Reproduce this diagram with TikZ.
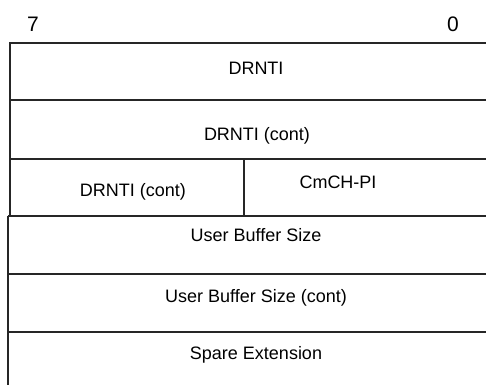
\documentclass[tikz,border=0pt]{standalone}
\usepackage{fontspec}
\setmainfont{Liberation Sans}
\begin{document}
\begin{tikzpicture}[x=1pt,y=-1pt,
  lbl/.style={font=\fontsize{18}{21}\selectfont, inner sep=0pt, anchor=base},
  bit/.style={font=\fontsize{21}{24}\selectfont, inner sep=0pt, anchor=base},
  rule/.style={line width=1.2pt, black!85}]
\useasboundingbox (0,0) rectangle (486,385);
% bit labels
\node[bit] (b7) at (33,32) {7};
\node[bit] (b0) at (453,32) {0};
% coordinates of the frame
\coordinate (t0) at (10,43);
\coordinate (t0r) at (486,43);
\coordinate (t1) at (10,100);
\coordinate (t1r) at (486,100);
\coordinate (t2) at (10,159);
\coordinate (t2r) at (486,159);
\coordinate (t3) at (8,216);
\coordinate (t3r) at (486,216);
\coordinate (t4) at (8,274);
\coordinate (t4r) at (486,274);
\coordinate (t5) at (8,332);
\coordinate (t5r) at (486,332);
\coordinate (bl) at (8,385);
\coordinate (d0) at (244,159);
\coordinate (d1) at (244,216);
\coordinate (t3a) at (10,216);
% lines
\draw[rule] (t0r) -- (t0) -- (t3a);
\draw[rule] (t1) -- (t1r);
\draw[rule] (t2) -- (t2r);
\draw[rule] (t3) -- (t3r);
\draw[rule] (t4) -- (t4r);
\draw[rule] (t5) -- (t5r);
\draw[rule] (t3) -- (bl);
\draw[rule] (d0) -- (d1);
% field labels
\node[lbl] (f1) at (256,75) {DRNTI};
\node[lbl] (f2) at (257,140) {DRNTI (cont)};
\node[lbl] (f3a) at (133,196) {DRNTI (cont)};
\node[lbl] (f3b) at (338,188) {CmCH-PI};
\node[lbl] (f4) at (256,241) {User Buffer Size};
\node[lbl] (f5) at (256,302) {User Buffer Size (cont)};
\node[lbl] (f6) at (256,359) {Spare Extension};
\end{tikzpicture}
\end{document}
